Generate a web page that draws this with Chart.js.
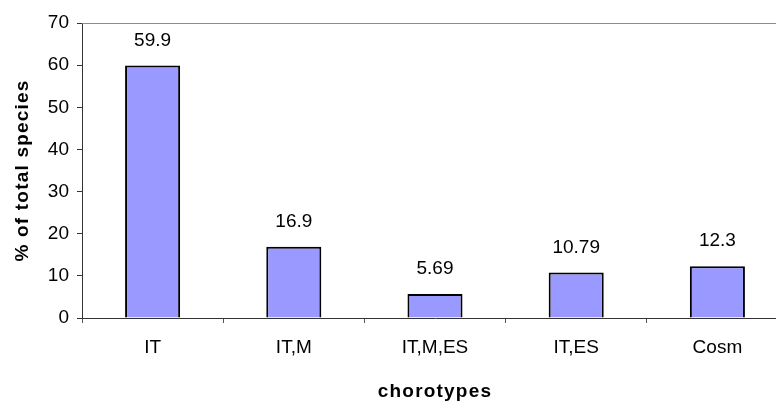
<!DOCTYPE html>
<html>
<head>
<meta charset="utf-8">
<script src="https://cdn.jsdelivr.net/npm/chart.js@4/dist/chart.umd.min.js"></script>
<style>
  html, body { margin: 0; padding: 0; background: #fff; overflow: hidden; }
</style>
</head>
<body>
<canvas id="chart" width="800" height="405"></canvas>
<script>
const categories = ["IT", "IT,M", "IT,M,ES", "IT,ES", "Cosm"];
const percentOfSpecies = [59.9, 16.9, 5.69, 10.79, 12.3];
const valueLabels = ["59.9", "16.9", "5.69", "10.79", "12.3"];
const yTicks = [0, 10, 20, 30, 40, 50, 60, 70];

const FONT = "'Liberation Sans', Arial, sans-serif";

// the axis titles in the original are spaced out a bit
const origDrawTitle = Chart.Scale.prototype.drawTitle;
Chart.Scale.prototype.drawTitle = function () {
  const ctx = this.ctx;
  const prev = ctx.letterSpacing;
  ctx.letterSpacing = "1.2px";
  origDrawTitle.apply(this, arguments);
  ctx.letterSpacing = prev;
};

const frameAndLabels = {
  id: "frameAndLabels",
  afterDatasetsDraw(chart) {
    const ctx = chart.ctx;
    const area = chart.chartArea;
    ctx.save();
    ctx.strokeStyle = "#8c8c8c";
    ctx.lineWidth = 1;
    ctx.beginPath();
    ctx.moveTo(area.left, area.top + 0.5);
    ctx.lineTo(area.right, area.top + 0.5);
    ctx.stroke();

    ctx.fillStyle = "#000";
    ctx.font = "19px " + FONT;
    ctx.textAlign = "center";
    ctx.textBaseline = "alphabetic";
    chart.getDatasetMeta(0).data.forEach((bar, i) => {
      ctx.fillText(valueLabels[i], bar.x, bar.y - 20);
    });
    ctx.restore();
  }
};

new Chart(document.getElementById("chart"), {
  type: "bar",
  data: {
    labels: categories,
    datasets: [{
      data: percentOfSpecies,
      backgroundColor: "#9999ff",
      borderColor: "#000",
      borderWidth: 2,
      barPercentage: 0.39,
      categoryPercentage: 1
    }]
  },
  options: {
    responsive: false,
    animation: false,
    layout: { padding: { top: 23, right: 12, bottom: 0, left: 0 } },
    plugins: {
      legend: { display: false },
      tooltip: { enabled: false }
    },
    scales: {
      x: {
        afterFit: (s) => { s.height = 87; },
        grid: { drawOnChartArea: false, tickLength: 5, color: "#555", offset: true },
        border: { color: "#333", width: 1 },
        ticks: { color: "#000", font: { family: FONT, size: 19 }, padding: 13, maxRotation: 0 },
        title: {
          display: true,
          text: "chorotypes",
          color: "#000",
          font: { family: FONT, size: 19, weight: "bold" },
          padding: { top: 2, bottom: 2 }
        }
      },
      y: {
        min: 0,
        max: 70,
        afterFit: (s) => { s.width = 82; },
        afterBuildTicks: (s) => { s.ticks = yTicks.map(v => ({ value: v })); },
        grid: { drawOnChartArea: false, tickLength: 5, color: "#333" },
        border: { color: "#333", width: 1 },
        ticks: { color: "#000", font: { family: FONT, size: 19 }, padding: 8 },
        title: {
          display: true,
          text: "% of total species",
          color: "#000",
          font: { family: FONT, size: 19, weight: "bold" },
          padding: { top: 11, bottom: 11 }
        }
      }
    }
  },
  plugins: [frameAndLabels]
});
</script>
</body>
</html>
